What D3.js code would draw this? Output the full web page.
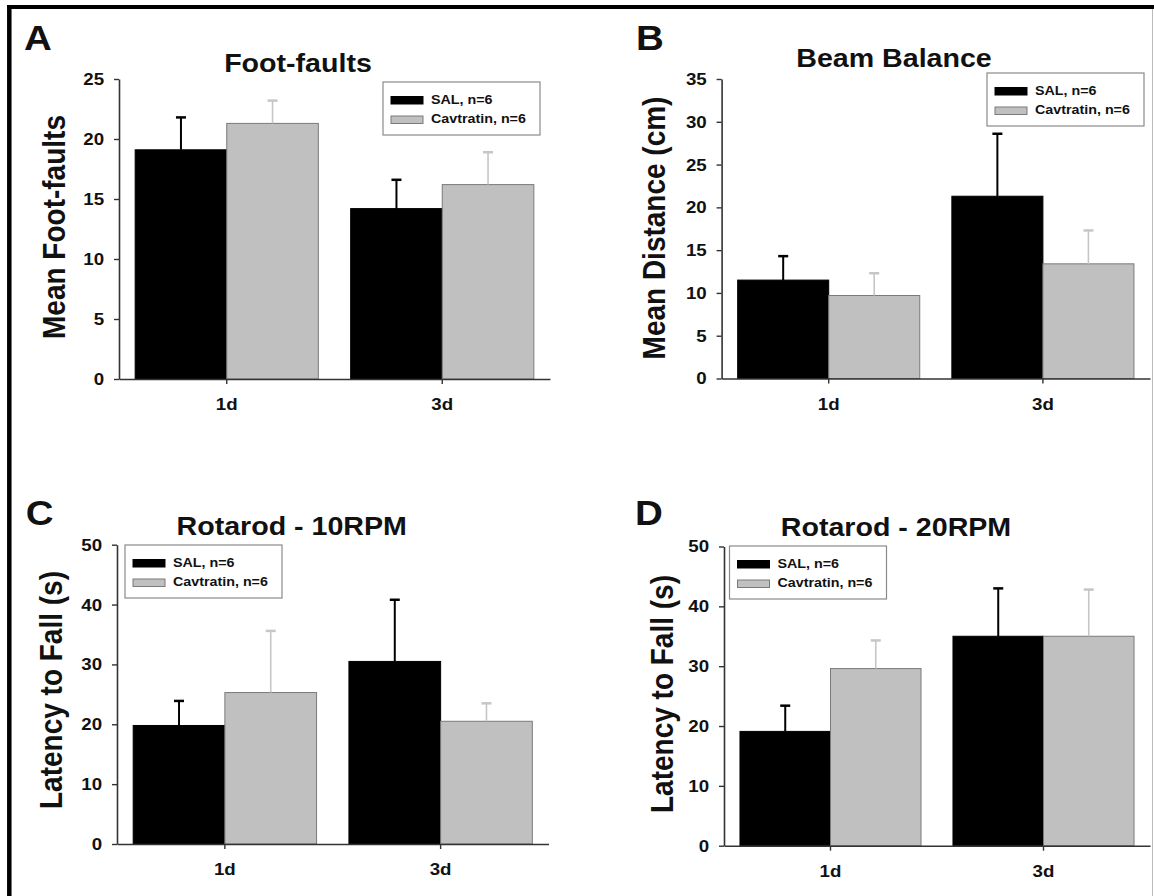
<!DOCTYPE html>
<html>
<head>
<meta charset="utf-8">
<script src="https://cdn.jsdelivr.net/npm/d3@7"></script>
<style>
  body { margin: 0; background: #fff; }
  text { font-family: "Liberation Sans", Arial, Helvetica, sans-serif; font-weight: bold; fill: #111; }
</style>
</head>
<body>
<div id="chart"></div>
<script>
// categories and series
const days = ["1d", "3d"];
const groupNames = ["SAL, n=6", "Cavtratin, n=6"];

// A - foot-faults (mean, SEM)
const footFaultsSal = [19.1, 14.2];
const footFaultsSalErr = [2.7, 2.4];
const footFaultsCav = [21.3, 16.2];
const footFaultsCavErr = [1.9, 2.7];
const footFaultsTicks = [0, 5, 10, 15, 20, 25];

// B - beam balance
const beamSal = [11.5, 21.3];
const beamSalErr = [2.8, 7.3];
const beamCav = [9.7, 13.4];
const beamCavErr = [2.6, 3.9];
const beamTicks = [0, 5, 10, 15, 20, 25, 30, 35];

// C - rotarod 10RPM
const rot10Sal = [19.8, 30.5];
const rot10SalErr = [4.1, 10.3];
const rot10Cav = [25.3, 20.5];
const rot10CavErr = [10.3, 3.0];

// D - rotarod 20RPM
const rot20Sal = [19.1, 35.0];
const rot20SalErr = [4.3, 8.0];
const rot20Cav = [29.6, 35.0];
const rot20CavErr = [4.7, 7.8];
const rotTicks = [0, 10, 20, 30, 40, 50];

// the source picture is a bit wider than tall, so text gets stretched too
const sx = 1.1;

const panels = [
    { letter: "A", title: "Foot-faults", ylabel: "Mean Foot-faults", ticks: footFaultsTicks,
      sal: footFaultsSal, salErr: footFaultsSalErr, cav: footFaultsCav, cavErr: footFaultsCavErr,
      left: 119, right: 550, top: 79, bottom: 379,
      titlePos: [298, 71.7], letterPos: [24, 50], ylabelPos: [64.5, 227], legendPos: [383, 82] },
    { letter: "B", title: "Beam Balance", ylabel: "Mean Distance (cm)", ticks: beamTicks,
      sal: beamSal, salErr: beamSalErr, cav: beamCav, cavErr: beamCavErr,
      left: 721.6, right: 1150, top: 79, bottom: 378.5,
      titlePos: [894, 66.7], letterPos: [636, 50], ylabelPos: [665, 228], legendPos: [987, 73] },
    { letter: "C", title: "Rotarod - 10RPM", ylabel: "Latency to Fall (s)", ticks: rotTicks,
      sal: rot10Sal, salErr: rot10SalErr, cav: rot10Cav, cavErr: rot10CavErr,
      left: 117, right: 548.5, top: 544.7, bottom: 844,
      titlePos: [291.7, 535.3], letterPos: [25.8, 525], ylabelPos: [62, 690], legendPos: [125, 545] },
    { letter: "D", title: "Rotarod - 20RPM", ylabel: "Latency to Fall (s)", ticks: rotTicks,
      sal: rot20Sal, salErr: rot20SalErr, cav: rot20Cav, cavErr: rot20CavErr,
      left: 724, right: 1150, top: 546.5, bottom: 845.7,
      titlePos: [896, 536.3], letterPos: [635, 525], ylabelPos: [673, 694], legendPos: [729.5, 546] }
];

const width = 1154;
const height = 896;

const svg = d3.select("#chart")
    .append("svg")
    .attr("width", width)
    .attr("height", height);

svg.append("rect").attr("width", width).attr("height", height).attr("fill", "#fff");

// outer frame (only top, left and a faint right edge are visible)
svg.append("line").attr("x1", 7).attr("x2", width).attr("y1", 7).attr("y2", 7)
    .attr("stroke", "#000").attr("stroke-width", 4);
svg.append("line").attr("x1", 9.3).attr("x2", 9.3).attr("y1", 5).attr("y2", height)
    .attr("stroke", "#000").attr("stroke-width", 4.5);
svg.append("line").attr("x1", 1152.5).attr("x2", 1152.5).attr("y1", 9).attr("y2", height)
    .attr("stroke", "#bbb").attr("stroke-width", 1);

function addText(g, x, y, txt, size, anchor, rotate) {
    return g.append("text")
        .attr("transform", `translate(${x},${y}) scale(${sx},1)` + (rotate ? " rotate(-90)" : ""))
        .attr("text-anchor", anchor)
        .style("font-size", size + "px")
        .text(txt);
}

const colors = ["#000", "#c0c0c0"];
const strokes = ["#000", "#7a7a7a"];
const errColors = ["#000", "#c6c6c6"];

panels.forEach(p => {
    const g = svg.append("g");

    const x0 = d3.scaleBand()
        .domain(days)
        .range([p.left, p.right])
        .paddingInner(0.15)
        .paddingOuter(0.075);

    const x1 = d3.scaleBand()
        .domain([0, 1])
        .range([0, x0.bandwidth()]);

    const y = d3.scaleLinear()
        .domain([0, d3.max(p.ticks)])
        .range([p.bottom, p.top]);

    const rows = [];
    days.forEach((d, i) => {
        rows.push({ day: d, s: 0, mean: p.sal[i], err: p.salErr[i] });
        rows.push({ day: d, s: 1, mean: p.cav[i], err: p.cavErr[i] });
    });

    g.selectAll(".bar")
        .data(rows)
        .enter()
        .append("rect")
        .attr("class", "bar")
        .attr("x", d => x0(d.day) + x1(d.s))
        .attr("y", d => y(d.mean))
        .attr("width", x1.bandwidth())
        .attr("height", d => y(0) - y(d.mean))
        .attr("fill", d => colors[d.s])
        .attr("stroke", d => strokes[d.s])
        .attr("stroke-width", 1);

    // upper error bars
    const cx = d => x0(d.day) + x1(d.s) + x1.bandwidth() / 2;
    g.selectAll(".err")
        .data(rows)
        .enter()
        .append("line")
        .attr("x1", cx).attr("x2", cx)
        .attr("y1", d => y(d.mean))
        .attr("y2", d => y(d.mean + d.err))
        .attr("stroke", d => errColors[d.s])
        .attr("stroke-width", d => d.s ? 1.6 : 2);

    g.selectAll(".cap")
        .data(rows)
        .enter()
        .append("line")
        .attr("x1", d => cx(d) - 5).attr("x2", d => cx(d) + 5)
        .attr("y1", d => y(d.mean + d.err))
        .attr("y2", d => y(d.mean + d.err))
        .attr("stroke", d => errColors[d.s])
        .attr("stroke-width", 2.5);

    // axes
    const yAx = g.append("g")
        .attr("transform", `translate(${p.left},0)`)
        .call(d3.axisLeft(y).tickValues(p.ticks).tickSize(5).tickSizeOuter(0).tickPadding(8.5));

    const xAx = g.append("g")
        .attr("transform", `translate(0,${p.bottom})`)
        .call(d3.axisBottom(x0).tickSize(5).tickSizeOuter(0).tickPadding(14));

    [yAx, xAx].forEach(ax => {
        ax.select(".domain").attr("stroke", "#333").attr("stroke-width", 1.6);
        ax.selectAll(".tick line").attr("stroke", "#333").attr("stroke-width", 1.4);
        ax.selectAll(".tick text")
            .attr("transform", `scale(${sx},1)`)
            .style("font-size", "17px")
            .style("font-family", "'Liberation Sans', Arial, sans-serif")
            .style("font-weight", "bold")
            .attr("fill", "#111");
    });

    // texts
    addText(g, p.letterPos[0], p.letterPos[1], p.letter, 35, "start");
    addText(g, p.titlePos[0], p.titlePos[1], p.title, 26, "middle");
    addText(g, p.ylabelPos[0], p.ylabelPos[1], p.ylabel, 28, "middle", true);

    // legend
    const lg = g.append("g").attr("transform", `translate(${p.legendPos[0]},${p.legendPos[1]})`);
    lg.append("rect")
        .attr("width", 157).attr("height", 53)
        .attr("fill", "#fff")
        .attr("stroke", "#8a8a8a")
        .attr("stroke-width", 1.2);
    groupNames.forEach((name, j) => {
        lg.append("rect")
            .attr("x", 8).attr("y", 14.5 + j * 19.5)
            .attr("width", 32).attr("height", 7.5)
            .attr("fill", colors[j])
            .attr("stroke", strokes[j])
            .attr("stroke-width", 1);
        addText(lg, 48, 21.8 + j * 19.5, name, 13, "start");
    });
});
</script>
</body>
</html>
